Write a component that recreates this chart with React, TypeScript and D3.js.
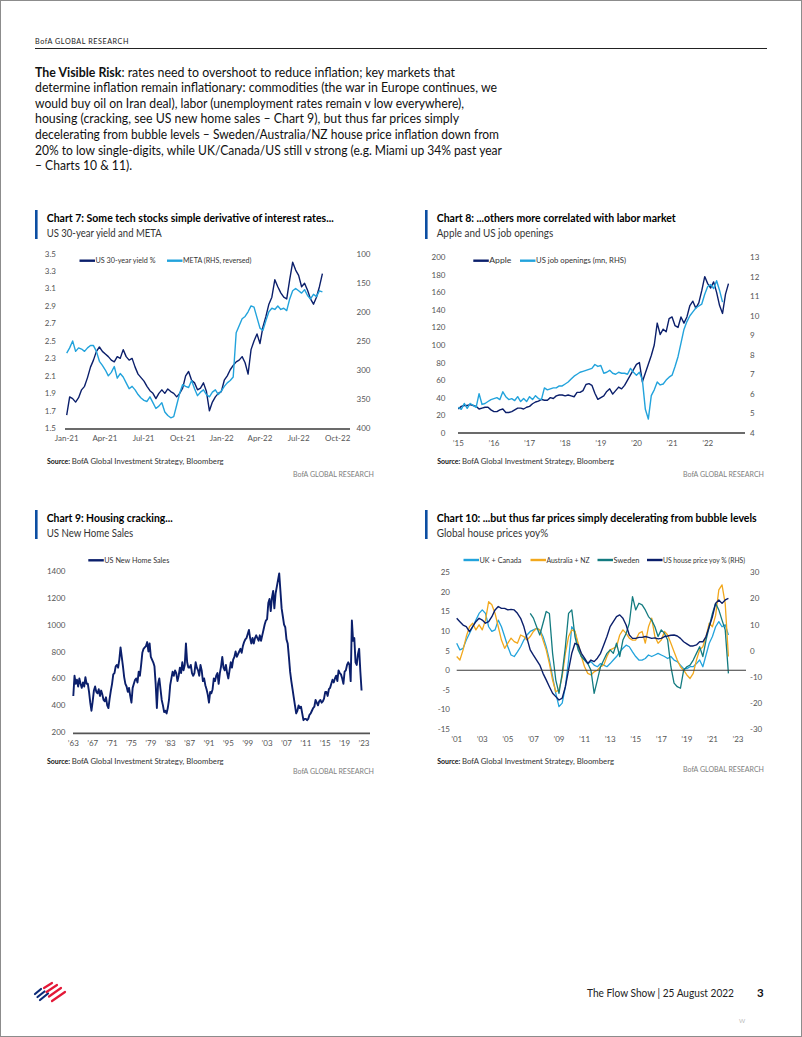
import React from "react";
import * as d3 from "d3";

const FONT = "Lato, 'Open Sans', 'DejaVu Sans', sans-serif";
const NAVY = "#0b1f6b";
const LIGHT = "#22a3dc";
const ORANGE = "#f2a81d";
const TEAL = "#137b80";
const BAR = "#0c4ea2";
const AXIS = "#3a3a3a";
const TICK = "#555555";

// ---------------- Chart 7 data (weekly from 1 Jan 2021)
const c7FirstWeek = new Date(2021, 0, 1);
const c7Yield = [
  1.65, 1.86, 1.84, 1.8, 1.85, 1.94, 1.98, 2.08, 2.2, 2.28,
  2.38, 2.43, 2.38, 2.35, 2.32, 2.28, 2.26, 2.32, 2.3, 2.4,
  2.32, 2.28, 2.3, 2.2, 2.12, 2.08, 2.04, 1.98, 1.93, 1.9,
  1.84, 1.9, 1.94, 1.9, 1.95, 1.92, 1.9, 1.86, 1.9, 1.96,
  2.1, 2.15, 2.05, 2.02, 1.94, 1.96, 2.02, 1.92, 1.7, 1.8,
  1.86, 1.9, 1.92, 2.05, 2.1, 2.17, 2.22, 2.26, 2.28, 2.32,
  2.25, 2.12, 2.4, 2.5, 2.58, 2.47, 2.66, 2.78, 2.92, 3.0,
  3.2, 3.12, 3.05, 3.0, 2.98, 3.2, 3.4, 3.31, 3.25, 3.12,
  3.16, 3.08, 2.98, 2.92, 3.0, 3.12, 3.27,
];
const c7Meta = [
  271, 262, 250, 268, 262, 264, 268, 262, 258, 258,
  268, 285, 292, 300, 310, 304, 294, 314, 306, 312,
  322, 332, 328, 334, 342, 348, 352, 354, 346, 356,
  366, 362, 356, 372, 378, 382, 380, 360, 340, 325,
  328, 330, 318, 332, 344, 338, 334, 342, 346, 338,
  334, 342, 336, 328, 322, 318, 312, 236, 224, 212,
  208, 200, 190, 192, 210, 228, 232, 215, 200, 194,
  196, 190, 196, 194, 198, 178, 164, 160, 164, 168,
  162, 172, 178, 170, 174, 164, 166,
];
const c7XLabels = ["Jan-21", "Apr-21", "Jul-21", "Oct-21", "Jan-22", "Apr-22", "Jul-22", "Oct-22"];
const c7LeftTicks = [1.5, 1.7, 1.9, 2.1, 2.3, 2.5, 2.7, 2.9, 3.1, 3.3, 3.5];
const c7RightTicks = [100, 150, 200, 250, 300, 350, 400];

// ---------------- Chart 8 data (monthly from Jan 2015)
const c8Apple = [
  27, 30, 31, 31, 32, 31, 30, 27, 28, 29, 29, 26,
  24, 24, 26, 27, 23, 23, 24, 26, 28, 28, 27, 29,
  30, 33, 35, 36, 38, 37, 37, 40, 39, 42, 43, 43,
  42, 43, 42, 41, 46, 46, 48, 55, 56, 54, 45, 38,
  40, 42, 47, 50, 44, 48, 52, 50, 54, 60, 66, 72,
  78, 80, 58, 68, 78, 88, 100, 125, 112, 118, 115, 130,
  132, 122, 120, 132, 125, 132, 145, 150, 142, 148, 162, 178,
  170, 165, 172, 160, 145, 136, 158, 170,
];
const c8Jobs = [
  5.3, 5.2, 5.5, 5.25, 5.5, 5.4, 5.3, 6.0, 5.45, 5.5, 5.6, 5.7,
  5.75, 5.8, 5.7, 6.1, 5.85, 5.7, 5.75, 5.65, 5.85, 5.6, 5.75, 5.6,
  5.85, 5.7, 5.9, 5.75, 5.7, 6.3, 6.2, 6.25, 6.3, 6.3, 6.4, 6.4,
  6.5, 6.6, 6.75, 6.9, 7.0, 7.1, 7.15, 7.2, 7.25, 7.3, 7.5, 7.4,
  7.45, 7.05, 7.1, 7.2, 7.05, 7.0, 7.1, 7.05, 7.05, 7.0, 7.3, 7.1,
  6.95, 7.1, 6.7, 5.2, 4.7, 5.9, 6.2, 6.6, 6.45, 6.5, 6.7, 6.85,
  6.95, 7.4, 7.9, 8.6, 9.3, 9.7, 10.0, 10.2, 10.4, 10.5, 10.6, 11.1,
  11.5, 11.6, 11.4, 11.8, 11.3, 10.7,
];
const c8XLabels = ["’15", "’16", "’17", "’18", "’19", "’20", "’21", "’22"];
const c8LeftTicks = [0, 20, 40, 60, 80, 100, 120, 140, 160, 180, 200];
const c8RightTicks = [4, 5, 6, 7, 8, 9, 10, 11, 12, 13];

// ---------------- Chart 9 data (quarterly from 1963 Q1)
const c9Sales = [
  470, 620, 560, 590, 540, 600, 560, 530, 570, 540, 610, 560,
  560, 500, 420, 360, 430, 510, 540, 500, 490, 520, 470, 510,
  480, 440, 430, 460, 400, 380, 450, 510, 560, 630, 640, 690,
  700, 680, 740, 830, 760, 690, 610, 560, 540, 500, 530, 470,
  420, 530, 560, 590, 600, 570, 650, 620, 700, 790, 820, 830,
  840, 870, 800, 860, 760, 740, 720, 690, 560, 380, 560, 600,
  520, 440, 400, 350, 360, 340, 380, 440, 550, 600, 650, 620,
  660, 640, 580, 620, 680, 640, 720, 660, 700, 860, 720, 680,
  680, 700, 640, 620, 640, 720, 680, 660, 620, 700, 660, 580,
  600, 550, 520, 480, 420, 500, 490, 520, 600, 580, 620, 640,
  560, 640, 690, 760, 680, 660, 700, 640, 600, 660, 720, 680,
  740, 760, 800, 760, 780, 800, 820, 790, 840, 870, 890, 900,
  930, 960, 900, 860, 900, 860, 900, 920, 900, 880, 920, 880,
  920, 960, 1000, 1030, 1040, 1160, 1190, 1100, 1200, 1250, 1120, 1230,
  1280, 1330, 1380, 1250, 1120, 1060, 1000, 980, 890, 860, 760, 650,
  580, 520, 460, 400, 340, 360, 400, 380, 390, 340, 290, 300,
  300, 290, 300, 330, 340, 360, 380, 390, 440, 420, 400, 430,
  440, 420, 430, 450, 500, 500, 470, 520, 530, 560, 590, 570,
  600, 620, 580, 660, 640, 630, 600, 560, 650, 660, 700, 720,
  700, 580, 1030, 880, 900, 720, 700, 780, 820, 650, 510,
];
const c9XLabels = ["’63", "’67", "’71", "’75", "’79", "’83", "’87", "’91", "’95", "’99", "’03", "’07", "’11", "’15", "’19", "’23"];
const c9LeftTicks = [200, 400, 600, 800, 1000, 1200, 1400];

// ---------------- Chart 10 data (quarterly from 2001 Q1; Sweden from 2006 Q4)
const c10UK = [
  6.9, 5.2, 5.6, 7.7, 9.4, 11.1, 12.8, 14.5, 15.4, 14.5, 11.1, 9.9,
  10.3, 12.8, 11.1, 8.6, 6.0, 3.9, 3.5, 4.7, 6.0, 7.7, 9.0, 9.9,
  10.3, 10.7, 10.3, 8.6, 6.0, 2.6, -1.6, -5.9, -9.3, -8.4, -4.2, 2.6,
  11.1, 9.9, 6.0, 3.5, 2.6, 1.7, 2.2, 1.3, 0.9, 1.7, 1.3, 0.9,
  1.7, 2.6, 3.5, 4.7, 5.6, 6.4, 6.0, 4.7, 3.5, 2.6, 2.6, 3.0,
  3.9, 3.5, 3.9, 4.3, 3.9, 3.5, 3.0, 3.5, 2.6, 2.2, 1.3, 0.4,
  0.4, 0.9, 0.9, 1.7, 2.6, 0.9, 3.9, 6.9, 8.6, 11.1, 12.4, 11.1,
  11.6, 9.0,
];
const c10AusNZ = [
  3.5, 2.6, 5.2, 8.6, 11.1, 12.0, 10.3, 11.6, 10.3, 12.8, 17.5, 16.7,
  14.5, 11.1, 7.7, 5.6, 6.9, 8.2, 7.3, 6.9, 9.0, 8.6, 7.7, 8.6,
  9.9, 10.7, 10.3, 7.7, 5.2, 1.7, -2.5, -5.5, -5.0, -1.6, 4.3, 8.6,
  10.3, 9.9, 6.9, 3.5, 0.9, -0.8, -1.2, -0.4, 0.0, 0.9, 1.3, 3.5,
  5.2, 5.6, 6.0, 9.0, 10.3, 9.4, 8.2, 7.7, 7.7, 9.4, 9.9, 6.9,
  11.1, 13.3, 8.6, 6.9, 7.7, 9.9, 9.0, 6.9, 4.7, 2.6, 0.9, 0.0,
  -1.2, -2.1, -0.8, 2.6, 5.2, 6.0, 8.6, 12.0, 11.1, 14.0, 20.5, 21.8,
  17.0, 3.5,
];
const c10Sweden = [
  14.5, 13.3, 11.1, 9.0, 12.0, 15.0, 14.5, 4.3, -2.5, -5.9, -0.8, 6.0,
  14.5, 15.4, 8.6, 5.2, 3.5, 2.6, 1.7, 0.0, -5.9, -2.5, 0.9, 2.6,
  4.3, 5.2, 4.3, 6.9, 3.5, 7.7, 9.4, 12.0, 18.8, 15.4, 17.1, 16.7,
  15.4, 13.7, 12.8, 11.1, 8.6, 10.3, 9.4, 7.7, 0.9, -3.3, -4.2, -4.6,
  0.0, 0.9, 1.3, 2.6, 4.3, 6.0, 3.5, 7.7, 11.1, 14.5, 17.1, 15.4,
  12.8, 10.3, -0.8,
];
const c10US = [
  12.4, 11.1, 9.8, 9.2, 7.3, 9.2, 11.1, 12.4, 11.7, 10.5, 11.1, 13.0,
  15.6, 16.9, 16.2, 16.2, 15.6, 15.8, 15.6, 14.3, 12.4, 9.2, 4.7, 0.3,
  -1.7, -3.6, -5.5, -8.7, -11.2, -13.8, -16.3, -17.6, -18.9, -18.2, -13.8, -7.4,
  -1.0, 2.8, 2.2, -1.0, -2.9, -4.9, -3.6, -4.2, -2.9, -1.0, 2.2, 5.4,
  9.2, 11.1, 13.0, 13.7, 12.4, 9.8, 6.0, 4.7, 4.7, 5.1, 5.1, 5.4,
  5.1, 4.7, 4.9, 4.5, 4.7, 5.4, 5.6, 5.9, 6.0, 5.6, 4.7, 3.4,
  2.6, 1.8, 1.8, 2.2, 3.4, 3.4, 5.4, 9.2, 13.0, 18.1, 19.4, 18.1,
  19.4, 20.0,
];
const c10XLabels = ["’01", "’03", "’05", "’07", "’09", "’11", "’13", "’15", "’17", "’19", "’21", "’23"];
const c10LeftTicks = [-15, -10, -5, 0, 5, 10, 15, 20, 25];
const c10RightTicks = [-30, -20, -10, 0, 10, 20, 30];

// ---------------- Text
const paraLines = [
  ": rates need to overshoot to reduce inflation; key markets that",
  "determine inflation remain inflationary: commodities (the war in Europe continues, we",
  "would buy oil on Iran deal), labor (unemployment rates remain v low everywhere),",
  "housing (cracking, see US new home sales – Chart 9), but thus far prices simply",
  "decelerating from bubble levels – Sweden/Australia/NZ house price inflation down from",
  "20% to low single-digits, while UK/Canada/US still v strong (e.g. Miami up 34% past year",
  "– Charts 10 & 11).",
];
const paraWidths = [420, 462, 429, 424, 464, 467, 97];

const tickStyle = { fontFamily: FONT, fontSize: 8, fill: TICK };
const legStyle = { fontFamily: FONT, fontSize: 7.5, fill: "#333" };

function PanelHeader(props: { x: number; y: number; title: string; tw: number; sub: string; sw: number }) {
  const { x, y, title, tw, sub, sw } = props;
  return (
    <g>
      <rect x={x - 11.7} y={y - 11.7} width={2.6} height={29} fill={BAR} />
      <text x={x} y={y} textLength={tw} lengthAdjust="spacingAndGlyphs"
        style={{ fontFamily: FONT, fontSize: 10.8, fontWeight: 700, fill: "#000" }}>{title}</text>
      <text x={x} y={y + 15} textLength={sw} lengthAdjust="spacingAndGlyphs"
        style={{ fontFamily: FONT, fontSize: 11, fill: "#333" }}>{sub}</text>
    </g>
  );
}

function PanelFooter(props: { x: number; y: number; right: number; ry: number }) {
  const { x, y, right, ry } = props;
  return (
    <g>
      <text x={x} y={y} style={{ fontFamily: FONT, fontSize: 7.6, fontWeight: 700, fill: "#111" }}
        textLength={23} lengthAdjust="spacingAndGlyphs">Source:</text>
      <text x={x + 24.7} y={y} style={{ fontFamily: FONT, fontSize: 7.6, fill: "#333" }}
        textLength={152} lengthAdjust="spacingAndGlyphs">BofA Global Investment Strategy, Bloomberg</text>
      <text x={right} y={ry} textAnchor="end" style={{ fontFamily: FONT, fontSize: 7.6, fill: "#808080" }}
        textLength={81} lengthAdjust="spacingAndGlyphs">BofA GLOBAL RESEARCH</text>
    </g>
  );
}

function LegendItem(props: { x: number; y: number; color: string; label: string; w: number }) {
  const { x, y, color, label, w } = props;
  return (
    <g>
      <line x1={x} x2={x + 15.5} y1={y} y2={y} stroke={color} strokeWidth={2.4} />
      <text x={x + 16} y={y + 2.6} style={legStyle} textLength={w} lengthAdjust="spacingAndGlyphs">{label}</text>
    </g>
  );
}

function Chart7() {
  const x = d3.scaleTime().domain([new Date(2021, 0, 1), new Date(2022, 9, 1)]).range([66.7, 337.7]);
  const yL = d3.scaleLinear().domain([1.5, 3.5]).range([428.3, 253.5]);
  const yR = d3.scaleLinear().domain([400, 100]).range([428.3, 253.5]);
  const wx = (i: number) => x(d3.timeDay.offset(c7FirstWeek, 7 * i));
  const lineL = d3.line<number>().x((_, i) => wx(i)).y((d) => yL(d));
  const lineR = d3.line<number>().x((_, i) => wx(i)).y((d) => yR(d));
  return (
    <g>
      <PanelHeader x={46.7} y={221.7} title="Chart 7: Some tech stocks simple derivative of interest rates..." tw={287}
        sub="US 30-year yield and META" sw={115} />
      <line x1={65} x2={350} y1={429} y2={429} stroke={AXIS} strokeWidth={1.3} />
      {c7LeftTicks.map((v) => (
        <text key={"l" + v} x={56} y={yL(v) + 3} textAnchor="end" style={tickStyle}>{v.toFixed(1)}</text>
      ))}
      {c7RightTicks.map((v) => (
        <text key={"r" + v} x={356.5} y={yR(v) + 3} style={tickStyle}>{v}</text>
      ))}
      {c7XLabels.map((l, k) => (
        <text key={l} x={x(new Date(2021, 3 * k, 1))} y={441} textAnchor="middle" style={tickStyle}>{l}</text>
      ))}
      <path d={lineL(c7Yield) || ""} fill="none" stroke={NAVY} strokeWidth={1.4} strokeLinejoin="round" />
      <path d={lineR(c7Meta) || ""} fill="none" stroke={LIGHT} strokeWidth={1.4} strokeLinejoin="round" />
      <LegendItem x={79.5} y={260.7} color={NAVY} label="US 30-year yield %" w={60} />
      <LegendItem x={167} y={260.7} color={LIGHT} label="META (RHS, reversed)" w={68.5} />
      <PanelFooter x={47} y={464} right={374} ry={476.5} />
    </g>
  );
}

function Chart8() {
  const x = d3.scaleLinear().domain([2015, 2022]).range([458.3, 707.7]);
  const yL = d3.scaleLinear().domain([0, 200]).range([432.7, 257.3]);
  const yR = d3.scaleLinear().domain([4, 13]).range([432.7, 257.3]);
  const mx = (i: number) => x(2015 + i / 12);
  const lineL = d3.line<number>().x((_, i) => mx(i)).y((d) => yL(d));
  const lineR = d3.line<number>().x((_, i) => mx(i)).y((d) => yR(d));
  return (
    <g>
      <PanelHeader x={436.7} y={221.7} title="Chart 8: ...others more correlated with labor market" tw={239}
        sub="Apple and US job openings" sw={116.6} />
      <line x1={458} x2={745} y1={433} y2={433} stroke={AXIS} strokeWidth={1.3} />
      {c8LeftTicks.map((v) => (
        <text key={"l" + v} x={445.5} y={yL(v) + 3} textAnchor="end" style={tickStyle}>{v}</text>
      ))}
      {c8RightTicks.map((v) => (
        <text key={"r" + v} x={750} y={yR(v) + 3} style={tickStyle}>{v}</text>
      ))}
      {c8XLabels.map((l, k) => (
        <text key={l} x={x(2015 + k)} y={446} textAnchor="middle" style={tickStyle}>{l}</text>
      ))}
      <path d={lineL(c8Apple) || ""} fill="none" stroke={NAVY} strokeWidth={1.4} strokeLinejoin="round" />
      <path d={lineR(c8Jobs) || ""} fill="none" stroke={LIGHT} strokeWidth={1.4} strokeLinejoin="round" />
      <LegendItem x={473.3} y={260.7} color={NAVY} label="Apple" w={22} />
      <LegendItem x={520} y={260.7} color={LIGHT} label="US job openings (mn, RHS)" w={90} />
      <PanelFooter x={437.3} y={464} right={764} ry={476.5} />
    </g>
  );
}

function Chart9() {
  const x = d3.scaleLinear().domain([1963, 2023]).range([73.3, 364]);
  const y = d3.scaleLinear().domain([200, 1400]).range([732.3, 570.7]);
  const qx = (i: number) => x(1963 + i / 4);
  const line = d3.line<number>().x((_, i) => qx(i)).y((d) => y(d));
  return (
    <g>
      <PanelHeader x={46.7} y={521.7} title="Chart 9: Housing cracking..." tw={126}
        sub="US New Home Sales" sw={86.6} />
      <line x1={73} x2={370} y1={733.3} y2={733.3} stroke="#555" strokeWidth={1.8} />
      {c9LeftTicks.map((v) => (
        <text key={"l" + v} x={65.5} y={y(v) + 3} textAnchor="end" style={tickStyle}>{v}</text>
      ))}
      {c9XLabels.map((l, k) => (
        <text key={l} x={x(1963 + 4 * k)} y={745.5} textAnchor="middle" style={tickStyle}>{l}</text>
      ))}
      <path d={line(c9Sales) || ""} fill="none" stroke={NAVY} strokeWidth={1.9} strokeLinejoin="round" />
      <LegendItem x={88.3} y={560.3} color={NAVY} label="US New Home Sales" w={65} />
      <PanelFooter x={47} y={764} right={374} ry={774} />
    </g>
  );
}

function Chart10() {
  const x = d3.scaleLinear().domain([2001, 2023]).range([456.7, 738]);
  const yL = d3.scaleLinear().domain([-15, 25]).range([729, 572.3]);
  const yR = d3.scaleLinear().domain([-30, 30]).range([729, 572.3]);
  const lineFrom = (start: number, y: d3.ScaleLinear<number, number>) =>
    d3.line<number>().x((_, i) => x(start + i / 4)).y((d) => y(d));
  return (
    <g>
      <PanelHeader x={436.7} y={521.7} title="Chart 10: ...but thus far prices simply decelerating from bubble levels" tw={320}
        sub="Global house prices yoy%" sw={111.6} />
      {c10LeftTicks.map((v) => (
        <text key={"l" + v} x={450} y={yL(v) + 3} textAnchor="end" style={tickStyle}>{v}</text>
      ))}
      {c10RightTicks.map((v) => (
        <text key={"r" + v} x={750} y={yR(v) + 3} style={tickStyle}>{v}</text>
      ))}
      {c10XLabels.map((l, k) => (
        <text key={l} x={x(2001 + 2 * k)} y={742} textAnchor="middle" style={tickStyle}>{l}</text>
      ))}
      <path d={lineFrom(2001, yL)(c10UK) || ""} fill="none" stroke={LIGHT} strokeWidth={1.3} strokeLinejoin="round" />
      <path d={lineFrom(2001, yL)(c10AusNZ) || ""} fill="none" stroke={ORANGE} strokeWidth={1.3} strokeLinejoin="round" />
      <path d={lineFrom(2006.75, yL)(c10Sweden) || ""} fill="none" stroke={TEAL} strokeWidth={1.3} strokeLinejoin="round" />
      <path d={lineFrom(2001, yR)(c10US) || ""} fill="none" stroke={NAVY} strokeWidth={1.4} strokeLinejoin="round" />
      <line x1={456.7} x2={746} y1={yL(0)} y2={yL(0)} stroke={AXIS} strokeWidth={1.2} />
      <LegendItem x={463.5} y={560} color={LIGHT} label="UK + Canada" w={42} />
      <LegendItem x={530.5} y={560} color={ORANGE} label="Australia + NZ" w={43} />
      <LegendItem x={597.5} y={560} color={TEAL} label="Sweden" w={26} />
      <LegendItem x={647} y={560} color={NAVY} label="US house price yoy % (RHS)" w={82} />
      <PanelFooter x={437.3} y={764} right={764} ry={771.5} />
    </g>
  );
}

function Logo() {
  const blue = [[35, 994, 41, 989], [37.5, 997, 44.5, 991.5], [40, 1000, 48, 993.5]];
  const red = [[44, 988, 52, 983], [46.5, 992, 57, 985], [49, 996.5, 61, 988], [52, 1001, 65, 992]];
  return (
    <g strokeWidth={2.2} strokeLinecap="round">
      {blue.map((s, i) => <line key={"b" + i} x1={s[0]} y1={s[1]} x2={s[2]} y2={s[3]} stroke="#0b2a78" />)}
      {red.map((s, i) => <line key={"r" + i} x1={s[0]} y1={s[1]} x2={s[2]} y2={s[3]} stroke="#e31837" />)}
    </g>
  );
}

export default function App() {
  return (
    <svg width={802} height={1037} viewBox="0 0 802 1037"
      style={{ position: "absolute", left: 0, top: 0, background: "#fff" }}>
      <rect x={0} y={0} width={802} height={1037} fill="#fff" />
      <rect x={0.5} y={0.5} width={801} height={1036} fill="none" stroke="#8c8c8c" strokeWidth={1} />
      <text x={35} y={43.5} textLength={94} lengthAdjust="spacingAndGlyphs"
        style={{ fontFamily: FONT, fontSize: 7.6, fill: "#222", letterSpacing: 0.6 }}>BofA GLOBAL RESEARCH</text>
      <line x1={35} x2={767} y1={48.5} y2={48.5} stroke="#222" strokeWidth={1} />
      {paraLines.map((l, i) => (
        <text key={i} x={35} y={76.5 + i * 15.65} textLength={paraWidths[i]} lengthAdjust="spacingAndGlyphs"
          style={{ fontFamily: FONT, fontSize: 12.6, fill: "#111" }}>
          {i === 0 ? <tspan style={{ fontWeight: 700 }}>The Visible Risk</tspan> : null}
          {l}
        </text>
      ))}
      <Chart7 />
      <Chart8 />
      <Chart9 />
      <Chart10 />
      <Logo />
      <text x={734} y={997} textAnchor="end" textLength={147} lengthAdjust="spacingAndGlyphs"
        style={{ fontFamily: FONT, fontSize: 11, fill: "#222" }}>The Flow Show | 25 August 2022</text>
      <text x={757} y={997} style={{ fontFamily: FONT, fontSize: 11.5, fontWeight: 700, fill: "#111" }}>3</text>
      <text x={739} y={1023} style={{ fontFamily: FONT, fontSize: 6, fill: "#bbb" }}>W</text>
    </svg>
  );
}
